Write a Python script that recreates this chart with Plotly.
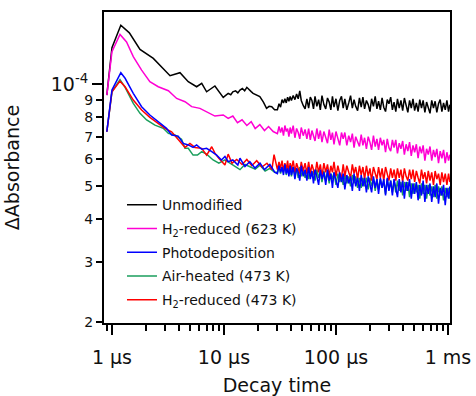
import plotly.graph_objects as go

# ---------------- data (time in µs, ΔAbsorbance in units of 1e-5) ----------------
Y_UNIT = 1e-5

UNMOD_T = [0.90, 1.0, 1.2, 1.43, 1.78, 2.34, 3.30, 4.05, 4.80, 5.70,
           6.33, 7.0, 8.3, 9.85, 10.9, 11.5, 12.0, 12.7, 13.3, 13.9,
           14.6, 15.3, 16.0, 16.8, 17.5, 18.2, 19.5, 20.9, 22.5, 24.0,
           25.3, 26.7, 28.3]
UNMOD_Y = [9.28, 12.8, 14.9, 14.15, 12.65, 11.9, 10.58, 10.8, 10.16, 9.82,
           10.05, 9.49, 9.87, 9.14, 9.39, 9.3, 9.49, 9.55, 9.42, 9.6,
           9.7, 9.55, 9.78, 9.6, 9.5, 9.39, 9.3, 9.18, 8.85, 8.48,
           8.6, 8.58, 8.4]

H2HIGH_T = [0.90, 1.0, 1.18, 1.35, 1.55, 1.84, 2.18, 2.59, 3.19, 3.78,
            4.49, 5.15, 6.1, 6.99, 8.3, 9.85, 10.9, 12.0, 13.2, 14.5,
            16.0, 17.5, 19.0, 20.9, 23.0, 25.0, 27.5]
H2HIGH_Y = [9.28, 12.45, 14.0, 13.3, 12.04, 10.99, 10.16, 9.82, 9.56, 9.07,
            8.87, 8.58, 8.48, 8.29, 8.05, 8.11, 7.92, 8.05, 7.7, 7.85,
            7.55, 7.75, 7.4, 7.6, 7.3, 7.5, 7.25]

PHOTO_T = [0.90, 1.0, 1.2, 1.31, 1.55, 1.84, 2.18, 2.59, 3.07, 3.41,
           3.9, 4.33, 4.8, 5.3, 5.7, 6.33, 7.0, 7.78, 8.6, 9.5,
           10.2, 10.9, 12.0, 13.3, 13.9, 15.4, 17.0, 18.9, 21.0, 23.0,
           25.7, 28.5]
PHOTO_Y = [7.24, 9.6, 10.8, 10.4, 9.39, 8.58, 8.11, 7.77, 7.41, 7.08,
           7.03, 6.69, 6.62, 6.51, 6.62, 6.43, 6.47, 6.33, 6.18, 5.98,
           6.12, 5.91, 5.98, 5.78, 6.05, 5.72, 5.91, 5.66, 5.85, 5.6,
           5.8, 5.5]

AIR_T = [0.90, 1.0, 1.18, 1.31, 1.55, 1.78, 2.04, 2.42, 2.87, 3.19,
         3.65, 4.18, 4.49, 4.8, 5.3, 5.8, 6.33, 7.0, 8.0, 9.0,
         10.2, 11.3, 12.5, 13.9, 15.4, 17.0, 19.0, 21.0, 23.3, 25.7,
         28.3]
AIR_Y = [7.24, 9.49, 10.3, 9.78, 8.77, 8.2, 7.84, 7.57, 7.41, 7.16,
         7.08, 6.88, 6.47, 6.47, 6.18, 6.18, 6.33, 6.22, 5.98, 5.85,
         5.98, 5.85, 5.75, 5.6, 5.8, 5.72, 5.62, 5.77, 5.55, 5.65,
         5.5]

H2LOW_T = [0.90, 1.0, 1.18, 1.31, 1.55, 1.84, 2.18, 2.59, 2.97, 3.41,
           4.05, 4.49, 4.97, 5.5, 6.33, 7.0, 7.78, 8.3, 9.0, 10.2,
           10.9, 11.8, 13.0, 14.5, 16.0, 17.7, 19.6, 21.8, 24.2, 26.8,
           28.0]
H2LOW_Y = [7.24, 9.49, 10.2, 9.82, 8.97, 8.39, 7.98, 7.68, 7.41, 7.24,
           6.77, 6.51, 6.69, 6.51, 6.47, 6.18, 6.54, 6.26, 6.05, 5.78,
           6.22, 5.85, 6.0, 5.8, 6.0, 5.75, 5.95, 5.7, 5.85, 5.6,
           6.2]

# late (noisy) part, shared sampling times (µs)
LATE_T = [30, 31, 32, 33, 34, 35, 36, 37, 38, 39,
          40, 41.5, 43, 44.5, 46, 47.5, 49, 51, 53, 55,
          57, 59, 61, 63, 65, 67.5, 70, 72.5, 75, 78,
          81, 84, 87, 90, 93, 96, 100, 104, 108, 112,
          116, 120, 125, 130, 135, 140, 145, 150, 156, 162,
          168, 174, 180, 187, 194, 201, 208, 216, 224, 232,
          240, 249, 258, 267, 277, 287, 297, 308, 319, 330,
          342, 354, 367, 380, 394, 408, 423, 438, 454, 470,
          487, 504, 522, 541, 560, 580, 600, 622, 644, 667,
          691, 716, 742, 768, 795, 823, 852, 882, 913, 945,
          978, 1012, 1040]

UNMOD_LATE = [8.4, 8.75, 8.55, 9.0, 8.8, 9.05, 8.8, 9.15, 8.9, 9.2,
              8.95, 9.25, 9.0, 9.35, 9.05, 9.55, 8.95, 8.65, 8.45, 9.05,
              8.5, 9.15, 8.95, 8.45, 9.2, 8.6, 9.0, 8.4, 9.25, 8.7,
              8.45, 9.1, 8.85, 8.4, 9.2, 8.55, 9.05, 8.35, 8.95, 9.2,
              8.5, 9.05, 8.4, 8.8, 9.25, 8.5, 9.0, 8.6, 8.35, 9.1,
              8.55, 9.15, 8.45, 8.95, 8.7, 8.3, 9.05, 8.6, 9.2, 8.45,
              8.9, 8.4, 9.1, 8.55, 8.3, 9.0, 8.75, 9.15, 8.4, 8.85,
              8.3, 9.05, 8.5, 8.95, 8.35, 9.1, 8.6, 8.25, 8.95, 8.5,
              9.05, 8.35, 8.8, 8.3, 9.0, 8.5, 8.95, 8.25, 8.85, 8.45,
              8.2, 8.95, 8.5, 8.9, 8.25, 8.75, 9.0, 8.3, 8.8, 8.4,
              8.95, 8.3, 8.7]

H2HIGH_LATE = [7.15, 7.5, 7.2, 7.45, 7.05, 7.55, 7.25, 7.4, 7.0, 7.45,
               7.15, 7.55, 6.95, 7.4, 7.2, 6.9, 7.45, 7.05, 7.35, 6.9,
               7.4, 6.85, 7.3, 7.05, 6.8, 7.4, 6.9, 7.3, 6.75, 7.25,
               7.0, 6.7, 7.35, 6.85, 7.2, 6.65, 7.25, 6.95, 6.6, 7.2,
               6.9, 7.2, 6.6, 7.05, 6.75, 7.15, 6.5, 7.0, 6.8, 6.55,
               7.1, 6.6, 6.95, 6.45, 7.0, 6.75, 6.4, 7.05, 6.55, 6.9,
               6.4, 6.95, 6.6, 6.85, 6.3, 6.9, 6.5, 6.35, 6.85, 6.5,
               6.85, 6.25, 6.7, 6.45, 6.8, 6.2, 6.65, 6.35, 6.75, 6.15,
               6.6, 6.3, 6.65, 6.05, 6.55, 6.25, 6.6, 5.95, 6.45, 6.2,
               6.55, 5.95, 6.4, 6.1, 6.45, 5.85, 6.35, 6.05, 6.4, 5.85,
               6.3, 5.95, 6.2]

PHOTO_LATE = [5.45, 5.75, 5.5, 5.7, 5.4, 5.8, 5.45, 5.65, 5.35, 5.75,
              5.4, 5.7, 5.25, 5.65, 5.5, 5.2, 5.75, 5.35, 5.6, 5.2,
              5.7, 5.25, 5.55, 5.1, 5.6, 5.35, 5.05, 5.6, 5.25, 5.5,
              5.05, 5.6, 5.2, 5.45, 4.95, 5.5, 5.25, 4.95, 5.5, 5.15,
              5.45, 4.9, 5.4, 5.1, 5.35, 4.85, 5.45, 5.0, 5.3, 4.85,
              5.4, 5.0, 5.3, 4.8, 5.35, 5.05, 4.8, 5.35, 4.95, 5.25,
              4.75, 5.3, 4.95, 5.25, 4.7, 5.3, 4.85, 5.2, 4.7, 5.25,
              4.9, 4.65, 5.25, 4.8, 5.2, 4.6, 5.15, 4.85, 5.25, 4.6,
              5.1, 4.75, 5.15, 4.55, 5.05, 4.7, 5.2, 4.5, 5.05, 4.75,
              5.1, 4.5, 5.0, 4.65, 5.1, 4.45, 4.95, 4.7, 5.05, 4.4,
              4.95, 4.6, 5.0]

AIR_LATE = [5.5, 5.75, 5.45, 5.7, 5.5, 5.8, 5.4, 5.7, 5.45, 5.75,
            5.35, 5.7, 5.4, 5.65, 5.3, 5.7, 5.35, 5.6, 5.3, 5.65,
            5.25, 5.6, 5.35, 5.55, 5.2, 5.6, 5.3, 5.5, 5.15, 5.55,
            5.2, 5.5, 5.1, 5.45, 5.25, 5.5, 5.05, 5.45, 5.15, 5.4,
            5.05, 5.4, 5.1, 5.35, 5.0, 5.4, 5.1, 5.35, 4.95, 5.3,
            4.95, 5.3, 5.0, 5.3, 4.9, 5.3, 5.0, 5.25, 4.85, 5.25,
            4.9, 5.25, 4.95, 5.2, 4.75, 5.25, 4.9, 5.2, 4.8, 5.2,
            4.8, 5.2, 4.85, 5.15, 4.7, 5.15, 4.85, 5.15, 4.65, 5.1,
            4.75, 5.1, 4.8, 5.05, 4.6, 5.1, 4.75, 5.05, 4.6, 5.05,
            4.7, 5.0, 4.65, 5.05, 4.6, 5.0, 4.7, 5.0, 4.55, 4.95,
            4.65, 4.95, 4.6]

H2LOW_LATE = [5.6, 5.9, 5.65, 5.95, 5.55, 5.85, 5.6, 5.95, 5.5, 5.85,
              5.6, 5.95, 5.5, 5.85, 5.65, 5.45, 5.9, 5.55, 5.85, 5.45,
              5.9, 5.45, 5.8, 5.55, 5.4, 5.9, 5.5, 5.8, 5.35, 5.85,
              5.5, 5.8, 5.35, 5.75, 5.5, 5.9, 5.35, 5.75, 5.45, 5.3,
              5.8, 5.35, 5.75, 5.5, 5.3, 5.8, 5.45, 5.7, 5.25, 5.75,
              5.4, 5.7, 5.25, 5.75, 5.35, 5.65, 5.2, 5.7, 5.45, 5.25,
              5.7, 5.3, 5.65, 5.2, 5.7, 5.4, 5.2, 5.65, 5.3, 5.6,
              5.2, 5.65, 5.3, 5.6, 5.15, 5.65, 5.35, 5.2, 5.6, 5.25,
              5.6, 5.15, 5.55, 5.3, 5.1, 5.6, 5.25, 5.5, 5.1, 5.55,
              5.2, 5.5, 5.05, 5.55, 5.25, 5.45, 5.05, 5.5, 5.15, 5.45,
              5.05, 5.45, 5.15]

SERIES_NAMES = ["Unmodified", "H<sub>2</sub>-reduced (623 K)", "Photodeposition",
                "Air-heated (473 K)", "H<sub>2</sub>-reduced (473 K)"]

X_TICKS = [1, 10, 100, 1000]
X_TICKTEXT = ["1 µs", "10 µs", "100 µs", "1 ms"]
X_MINOR = [0.9, 2, 3, 4, 5, 6, 7, 8, 9, 20, 30, 40, 50, 60, 70, 80, 90,
           200, 300, 400, 500, 600, 700, 800, 900]
Y_TICKS = [2e-5, 3e-5, 4e-5, 5e-5, 6e-5, 7e-5, 8e-5, 9e-5]
Y_TICKTEXT = ["2", "3", "4", "5", "6", "7", "8", "9"]
Y_MAJOR = [1e-4]
Y_MAJOR_TEXT = ["10<sup>-4</sup>"]

for late in (UNMOD_LATE, H2HIGH_LATE, PHOTO_LATE, AIR_LATE, H2LOW_LATE):
    assert len(late) == len(LATE_T), (len(late), len(LATE_T))
for a, b in ((UNMOD_T, UNMOD_Y), (H2HIGH_T, H2HIGH_Y), (PHOTO_T, PHOTO_Y),
             (AIR_T, AIR_Y), (H2LOW_T, H2LOW_Y)):
    assert len(a) == len(b)

FONT = "DejaVu Sans"
TXT = "#111111"
X_RANGE = [-0.071, 3.018]
Y_RANGE = [-4.703, -3.788]

fig = go.Figure()


def add(t, y, late, name, color, rank):
    fig.add_trace(go.Scatter(
        x=t + LATE_T,
        y=[v * Y_UNIT for v in y + late],
        mode="lines", name=name, legendrank=rank, legendgroup=name,
        line=dict(color=color, width=1.5),
    ))


add(UNMOD_T, UNMOD_Y, UNMOD_LATE, SERIES_NAMES[0], "#000000", 1)
add(H2HIGH_T, H2HIGH_Y, H2HIGH_LATE, SERIES_NAMES[1], "#FF00D4", 2)
add(AIR_T, AIR_Y, AIR_LATE, SERIES_NAMES[3], "#1A9E5C", 4)
add(H2LOW_T, H2LOW_Y, H2LOW_LATE, SERIES_NAMES[4], "#FF0000", 5)
add(PHOTO_T, PHOTO_Y, PHOTO_LATE, SERIES_NAMES[2], "#0000FF", 3)

# empty helper trace so the overlaid axis carrying the 10^-4 label is drawn
fig.add_trace(go.Scatter(x=[None], y=[None], yaxis="y2", showlegend=False,
                         hoverinfo="skip", mode="lines"))

fig.update_layout(
    width=476, height=396,
    margin=dict(l=104, r=26, t=12, b=73, autoexpand=False),
    paper_bgcolor="white", plot_bgcolor="white",
    font=dict(family=FONT, color=TXT, size=14),
    showlegend=True,
    legend=dict(x=0.052, y=0.43, xanchor="left", yanchor="top",
                bgcolor="rgba(0,0,0,0)", font=dict(size=14, color=TXT),
                itemwidth=30, traceorder="grouped", tracegroupgap=2.5),
    xaxis=dict(type="log", range=X_RANGE,
               tickvals=X_TICKS, ticktext=X_TICKTEXT,
               ticks="outside", ticklen=10, tickwidth=2, tickcolor="black",
               ticklabelstandoff=6,
               showline=True, linewidth=2, linecolor="black", mirror=True,
               showgrid=False, zeroline=False,
               minor=dict(tickvals=X_MINOR, ticks="outside", ticklen=6,
                          tickwidth=2, tickcolor="black", showgrid=False),
               tickfont=dict(size=19, color=TXT),
               title=dict(text="Decay time", font=dict(size=19, color=TXT), standoff=14),
               automargin=False),
    yaxis=dict(type="log", range=Y_RANGE,
               tickvals=Y_TICKS, ticktext=Y_TICKTEXT,
               ticks="outside", ticklen=6, tickwidth=2, tickcolor="black",
               showline=True, linewidth=2, linecolor="black", mirror=True,
               showgrid=False, zeroline=False,
               tickfont=dict(size=14, color=TXT),
               title=dict(text="ΔAbsorbance", font=dict(size=19, color=TXT), standoff=60),
               automargin=False),
    yaxis2=dict(type="log", range=Y_RANGE, overlaying="y", side="left",
                tickvals=Y_MAJOR, ticktext=Y_MAJOR_TEXT,
                ticks="outside", ticklen=11, tickwidth=2, tickcolor="black",
                showline=False, showgrid=False, zeroline=False,
                tickfont=dict(size=19, color=TXT), automargin=False),
)

fig.write_html("out.html", config={"displayModeBar": False},
               post_script="document.body.style.margin='0';")
